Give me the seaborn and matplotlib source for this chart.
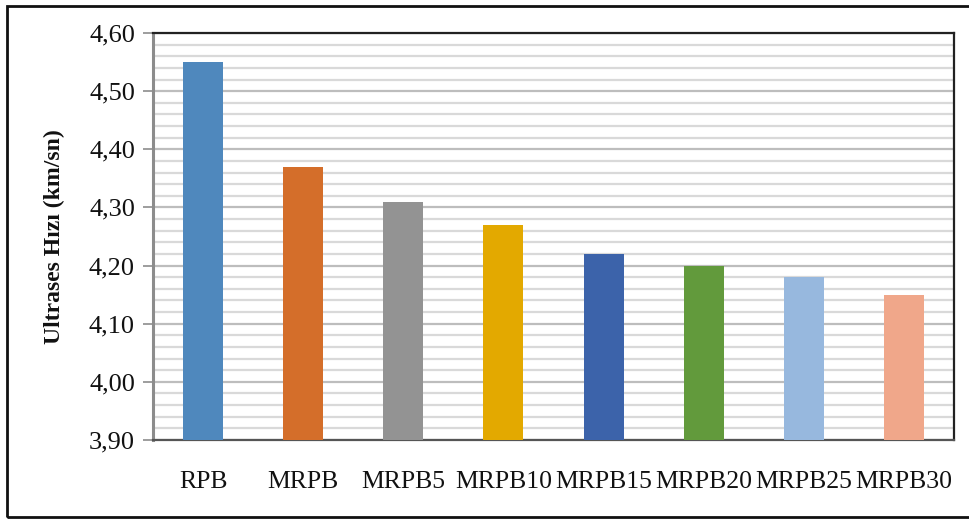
import matplotlib
matplotlib.use("Agg")
import matplotlib.pyplot as plt
import seaborn as sns
import pandas as pd
from matplotlib.ticker import FuncFormatter, MultipleLocator
from matplotlib.patches import Rectangle

categories = ["RPB", "MRPB", "MRPB5", "MRPB10", "MRPB15", "MRPB20", "MRPB25", "MRPB30"]
velocities = [4.55, 4.37, 4.31, 4.27, 4.22, 4.20, 4.18, 4.15]
bar_colors = ["#4F88BD", "#D46E2A", "#939393", "#E3A900",
              "#3C63AA", "#629A3C", "#97B8DE", "#F0A78A"]
y_label = "Ultrases Hızı (km/sn)"

df = pd.DataFrame({"group": categories, "v": velocities})

sns.set_theme(style="white")
plt.rcParams["font.family"] = ["Liberation Serif", "DejaVu Serif"]

fig = plt.figure(figsize=(9.69, 5.19), dpi=100)
ax = fig.add_axes([153/969, 1 - 440/519, (954 - 153)/969, (440 - 33)/519])

sns.barplot(data=df, x="group", y="v", hue="group", palette=bar_colors,
            width=0.4, legend=False, ax=ax, saturation=1, linewidth=0, zorder=3)

ax.set_ylim(3.90, 4.60)
ax.yaxis.set_major_locator(MultipleLocator(0.10))
ax.yaxis.set_minor_locator(MultipleLocator(0.02))
ax.yaxis.set_major_formatter(FuncFormatter(lambda v, p: f"{v:.2f}".replace(".", ",")))

ax.grid(which="minor", axis="y", color="#d9d9d9", lw=1.6, zorder=0)
ax.grid(which="major", axis="y", color="#bdbdbd", lw=1.6, zorder=0)
ax.set_axisbelow(True)

for side in ["top", "right"]:
    ax.spines[side].set_color("#222222")
    ax.spines[side].set_linewidth(1.6)
ax.spines["left"].set_color("#8c8c8c")
ax.spines["left"].set_linewidth(2.2)
ax.spines["bottom"].set_color("#555555")
ax.spines["bottom"].set_linewidth(1.6)

ax.tick_params(axis="y", which="major", length=7, width=1.2, color="#8c8c8c",
               labelsize=19, pad=6, left=True)
ax.tick_params(axis="y", which="minor", length=0)
ax.tick_params(axis="x", length=0, labelsize=18.5, pad=22)
for lbl in ax.get_yticklabels() + ax.get_xticklabels():
    lbl.set_color("#111111")

ax.set_xlabel("")
ax.set_ylabel(y_label, fontsize=17, fontweight="bold", color="#111111", labelpad=17)

# outer frame around the whole figure (right edge runs past the canvas)
fig.add_artist(Rectangle((7/969, 2/519), 970/969, 511/519, transform=fig.transFigure,
                         fill=False, edgecolor="#111111", lw=2, clip_on=False))

fig.savefig("out.png", dpi=100)
